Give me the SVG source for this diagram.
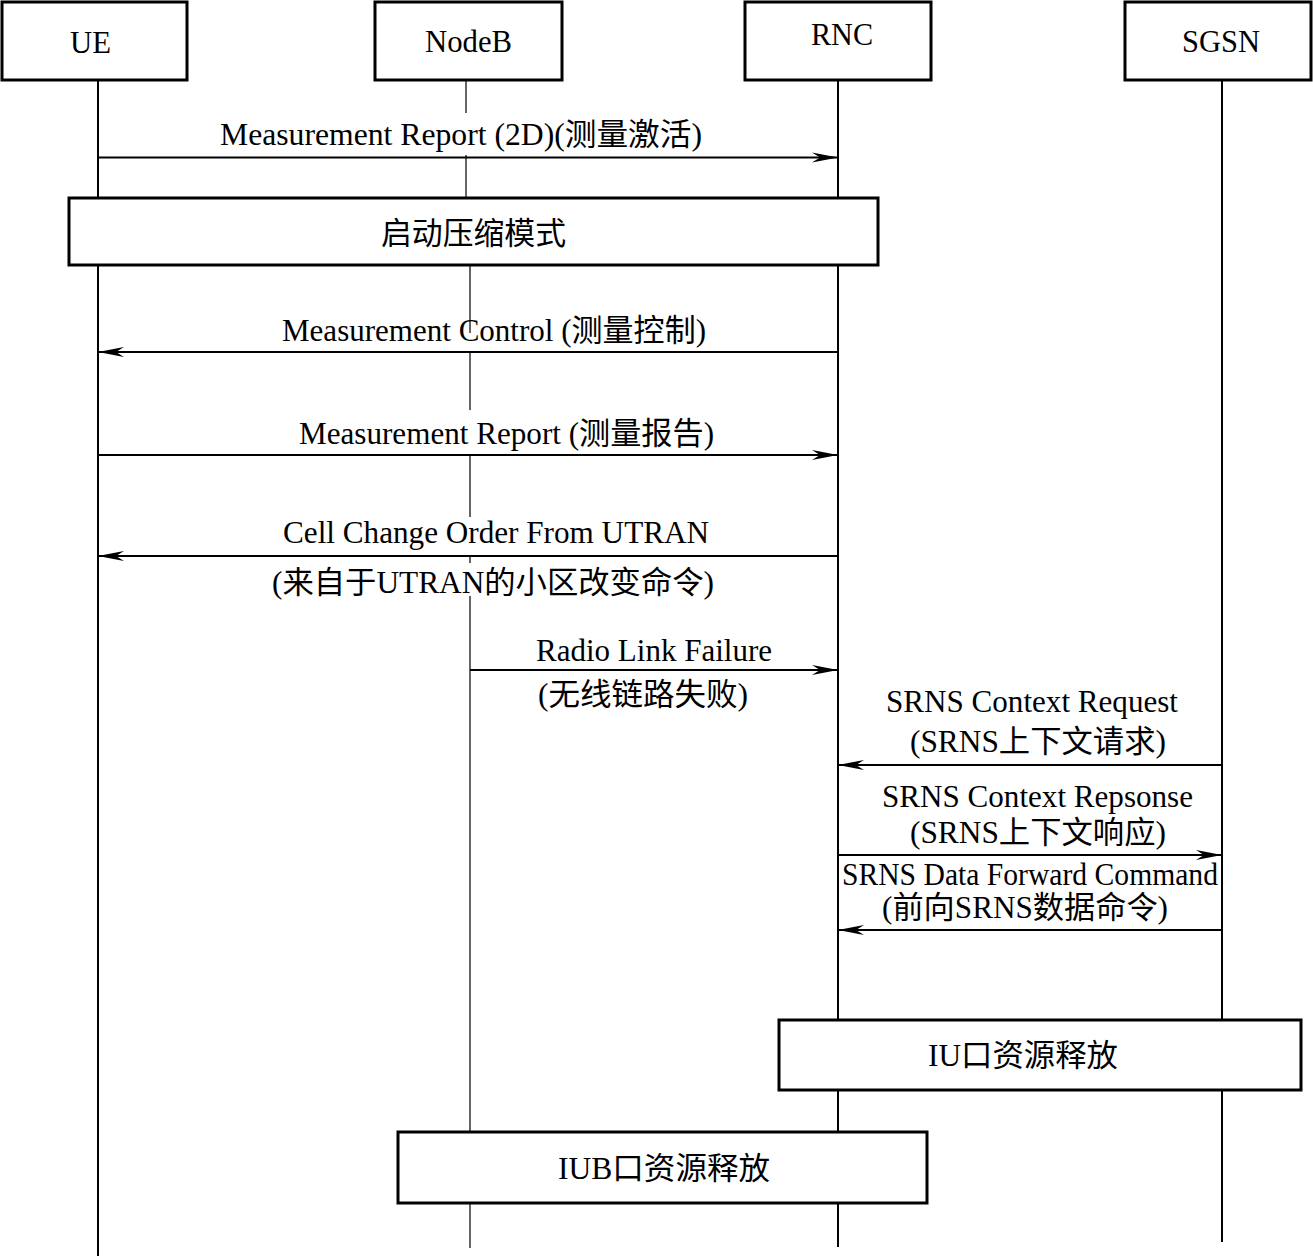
<svg xmlns="http://www.w3.org/2000/svg" width="1313" height="1256" viewBox="0 0 1313 1256">
<style>
text{font-family:"Liberation Serif","Noto Sans CJK SC",serif;font-size:31px;fill:#000}
.hd{font-size:32px}
.box{fill:#fff;stroke:#000;stroke-width:3}
.life{stroke:#000;stroke-width:2;fill:none}
.lifeb{stroke:#333;stroke-width:1.5;fill:none}
.msg{stroke:#000;stroke-width:2;fill:none}
</style>
<defs>
<marker id="ah" markerUnits="userSpaceOnUse" markerWidth="26" markerHeight="12" refX="26" refY="6" orient="auto">
<path d="M0,1 L26,6 L0,11 L8,6 Z" fill="#000"/>
</marker>
</defs>
<rect width="1313" height="1256" fill="#fff"/>
<g id="lifelines">
<line class="life" x1="98" y1="80" x2="98" y2="1256"/>
<path class="lifeb" d="M466,80V113M466,155V198M470,265V333M470,352V410M470,455V517M470,555V563M470,596V1248"/>
<line class="life" x1="838" y1="80" x2="838" y2="1247"/>
<line class="life" x1="1222" y1="80" x2="1222" y2="1242"/>
</g>
<g id="UE"><rect class="box" x="2" y="2" width="185" height="78"/><text class="hd" x="70" y="53" textLength="41" lengthAdjust="spacingAndGlyphs">UE</text></g>
<g id="NodeB"><rect class="box" x="375" y="2" width="187" height="78"/><text class="hd" x="425" y="52" textLength="87" lengthAdjust="spacingAndGlyphs">NodeB</text></g>
<g id="RNC"><rect class="box" x="745" y="2" width="186" height="78"/><text class="hd" x="811" y="45" textLength="62" lengthAdjust="spacingAndGlyphs">RNC</text></g>
<g id="SGSN"><rect class="box" x="1125" y="2" width="186" height="78"/><text class="hd" x="1182" y="52" textLength="78" lengthAdjust="spacingAndGlyphs">SGSN</text></g>
<g id="compressed-mode"><rect class="box" x="69" y="198" width="809" height="67"/><text x="381" y="244" textLength="185" lengthAdjust="spacingAndGlyphs">启动压缩模式</text></g>
<g id="iu-release"><rect class="box" x="779" y="1020" width="522" height="70"/><text x="928" y="1066" textLength="190" lengthAdjust="spacingAndGlyphs">IU口资源释放</text></g>
<g id="iub-release"><rect class="box" x="398" y="1132" width="529" height="71"/><text x="558" y="1179" textLength="212" lengthAdjust="spacingAndGlyphs">IUB口资源释放</text></g>
<g id="connectors">
<g id="m1"><line class="msg" x1="98" y1="157.5" x2="838" y2="157.5" marker-end="url(#ah)"/><text x="220" y="145" textLength="482" lengthAdjust="spacingAndGlyphs">Measurement Report (2D)(测量激活)</text></g>
<g id="m2"><line class="msg" x1="838" y1="352" x2="98" y2="352" marker-end="url(#ah)"/><text x="282" y="341" textLength="424" lengthAdjust="spacingAndGlyphs">Measurement Control (测量控制)</text></g>
<g id="m3"><line class="msg" x1="98" y1="455" x2="838" y2="455" marker-end="url(#ah)"/><text x="299" y="444" textLength="415" lengthAdjust="spacingAndGlyphs">Measurement Report (测量报告)</text></g>
<g id="m4"><line class="msg" x1="838" y1="556" x2="98" y2="556" marker-end="url(#ah)"/><text x="283" y="543" textLength="426" lengthAdjust="spacingAndGlyphs">Cell Change Order From UTRAN</text><text x="272" y="593" textLength="442" lengthAdjust="spacingAndGlyphs">(来自于UTRAN的小区改变命令)</text></g>
<g id="m5"><line class="msg" x1="470" y1="670" x2="838" y2="670" marker-end="url(#ah)"/><text x="536" y="661" textLength="236" lengthAdjust="spacingAndGlyphs">Radio Link Failure</text><text x="538" y="705" textLength="210" lengthAdjust="spacingAndGlyphs">(无线链路失败)</text></g>
<g id="m6"><line class="msg" x1="1222" y1="765" x2="838" y2="765" marker-end="url(#ah)"/><text x="886" y="712" textLength="292" lengthAdjust="spacingAndGlyphs">SRNS Context Request</text><text x="910" y="752" textLength="256" lengthAdjust="spacingAndGlyphs">(SRNS上下文请求)</text></g>
<g id="m7"><line class="msg" x1="838" y1="855" x2="1222" y2="855" marker-end="url(#ah)"/><text x="882" y="807" textLength="311" lengthAdjust="spacingAndGlyphs">SRNS Context Repsonse</text><text x="910" y="843" textLength="256" lengthAdjust="spacingAndGlyphs">(SRNS上下文响应)</text></g>
<g id="m8"><line class="msg" x1="1222" y1="930" x2="838" y2="930" marker-end="url(#ah)"/><text x="842" y="885" textLength="376" lengthAdjust="spacingAndGlyphs">SRNS Data Forward Command</text><text x="882" y="918" textLength="286" lengthAdjust="spacingAndGlyphs">(前向SRNS数据命令)</text></g>
</g>
</svg>
